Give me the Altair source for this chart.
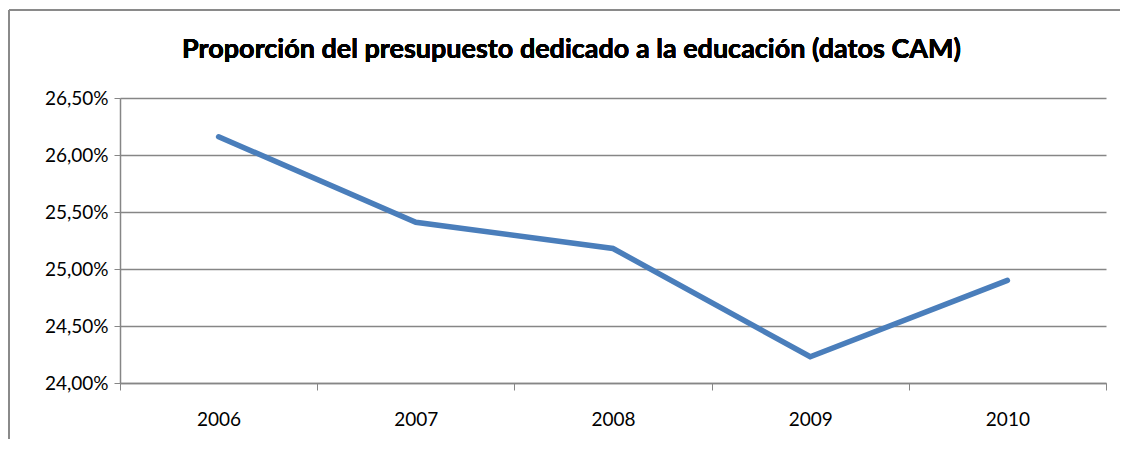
import altair as alt
import pandas as pd

years = ["2006", "2007", "2008", "2009", "2010"]
values = [26.16, 25.41, 25.18, 24.23, 24.90]
y_ticks = [24.0, 24.5, 25.0, 25.5, 26.0, 26.5]
title_text = "Proporción del presupuesto dedicado a la educación (datos CAM)"

df = pd.DataFrame({"year": years, "value": values})

FONT = "Lato"
GRAY = "#868686"

line = alt.Chart(df).mark_line(color="#4A7EBB", strokeWidth=5.5, strokeCap="round", strokeJoin="miter").encode(
    x=alt.X("year:N", sort=years,
            scale=alt.Scale(paddingInner=0, paddingOuter=0),
            axis=alt.Axis(title=None, labelAngle=0, tickBand="extent", grid=False,
                          domainColor=GRAY, tickColor=GRAY, tickSize=7, domainWidth=1.5,
                          labelFont=FONT, labelFontSize=19, labelColor="#000000",
                          labelPadding=20)),
    y=alt.Y("value:Q",
            scale=alt.Scale(domain=[24.0, 26.5], nice=False, zero=False),
            axis=alt.Axis(title=None, values=y_ticks,
                          labelExpr="replace(format(datum.value, '.2f'), '.', ',') + '%'",
                          grid=True, gridColor=GRAY, gridWidth=1.3,
                          domainColor=GRAY, tickColor=GRAY, tickSize=6, domainWidth=1.5,
                          labelFont=FONT, labelFontSize=19, labelColor="#000000",
                          labelPadding=6)),
)

frame_top = alt.Chart(df).mark_rule(color="#8a8a8a", strokeWidth=2).encode(
    x=alt.value(-111), x2=alt.value(1020), y=alt.value(-88)
)
frame_left = alt.Chart(df).mark_rule(color="#8a8a8a", strokeWidth=2).encode(
    x=alt.value(-111), y=alt.value(-88), y2=alt.value(400)
)
title = alt.Chart(df).mark_text(
    font=FONT, fontSize=27, fontWeight="bold", color="#000000",
    align="center", baseline="middle"
).encode(
    x=alt.value(451.5), y=alt.value(-48), text=alt.value(title_text)
)

chart = alt.layer(frame_top, frame_left, title, line).properties(
    width=986,
    height=285,
    autosize=alt.AutoSizeParams(type="none"),
    padding={"left": 112, "top": 90, "right": 14, "bottom": 56},
).configure_view(stroke=None)

chart.save("out.html", embed_options={"renderer": "svg", "actions": False})
